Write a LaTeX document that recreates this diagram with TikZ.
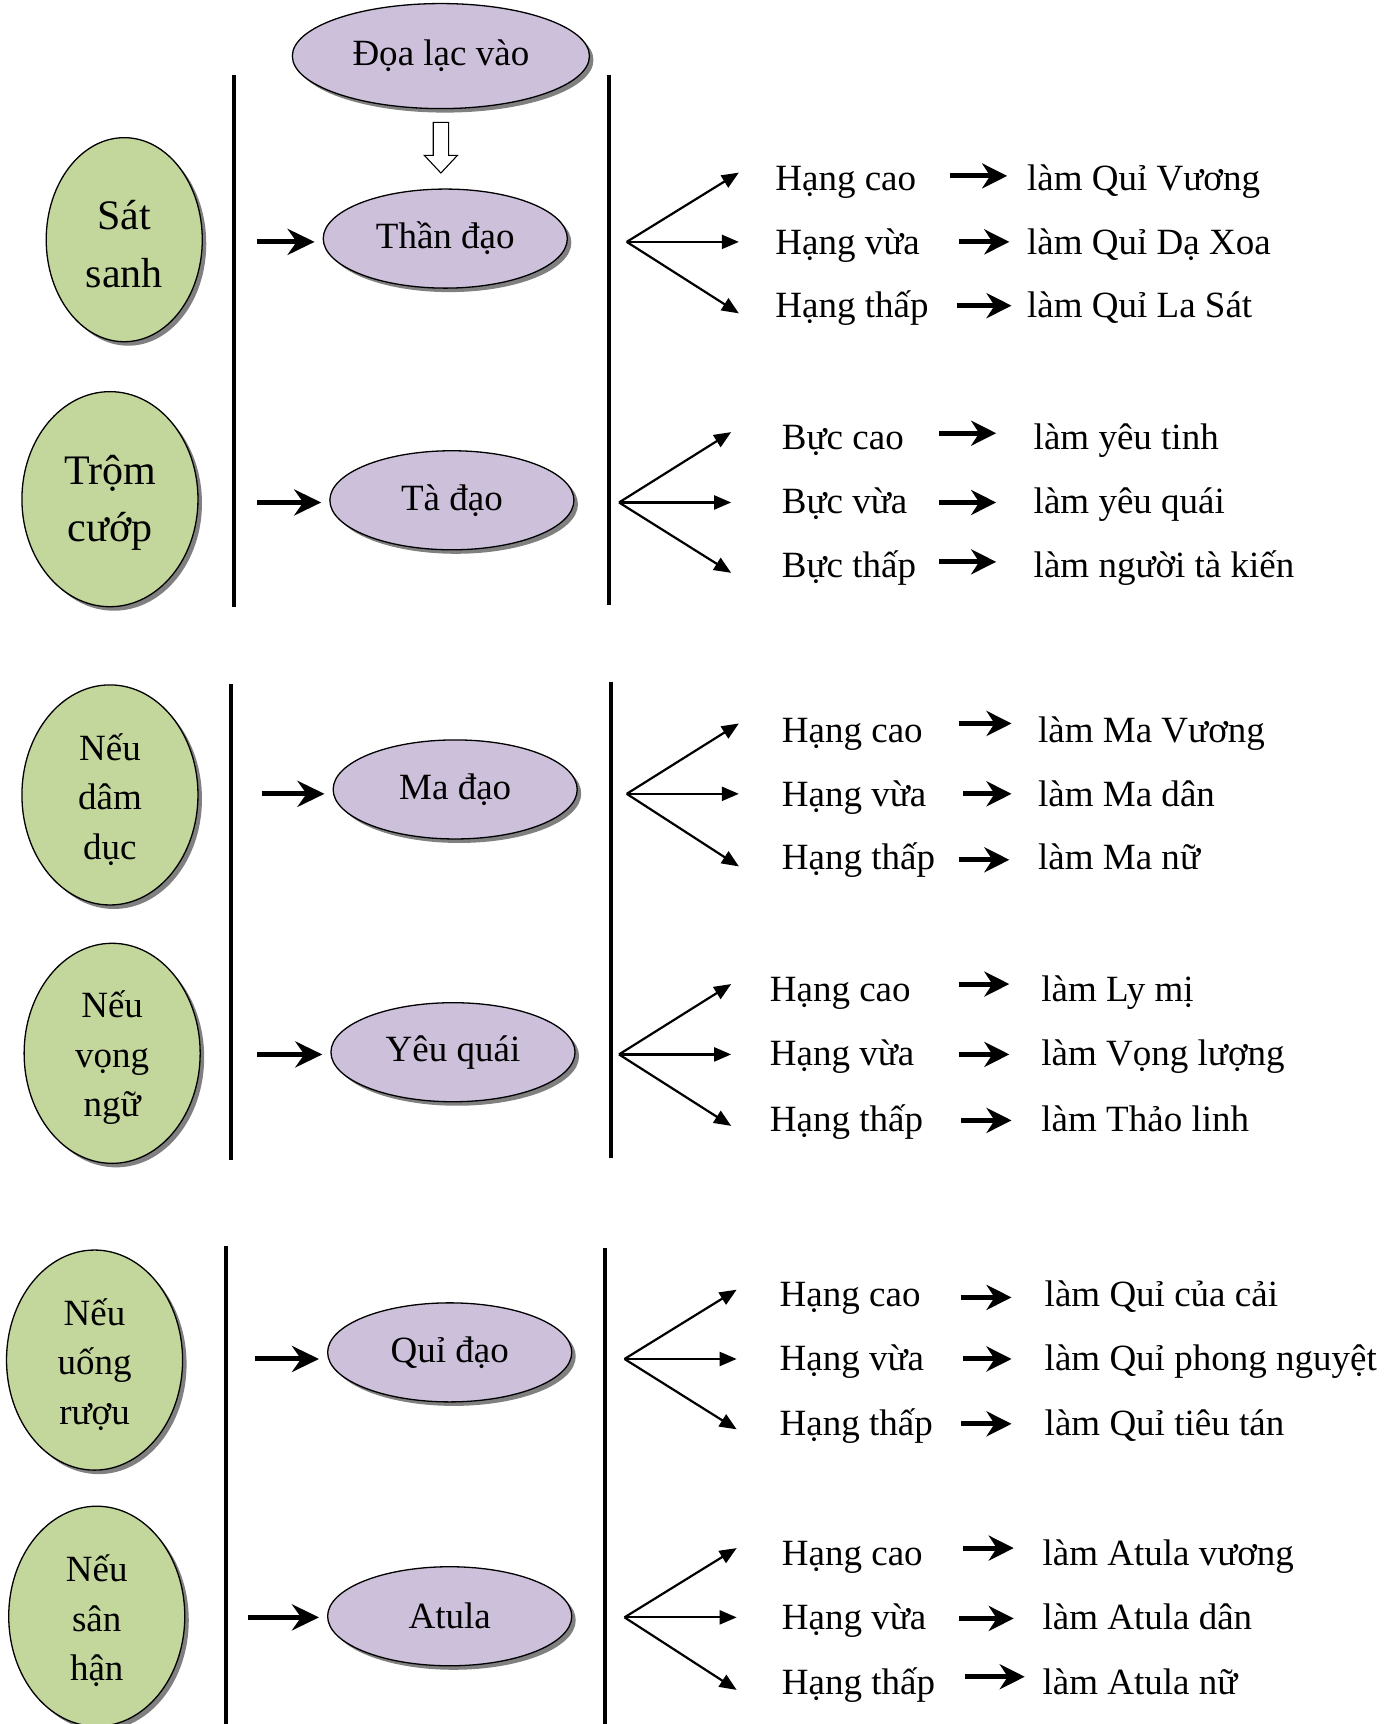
\documentclass[tikz,border=0pt]{standalone}
\usepackage{fontspec}
\setmainfont{Liberation Serif}
\usetikzlibrary{shapes.geometric,arrows.meta,shadows}
\definecolor{gfill}{RGB}{195,214,155}
\definecolor{pfill}{RGB}{204,192,218}
\begin{document}
\begin{tikzpicture}[x=1.0991pt,y=-1.0991pt,
  ell/.style={ellipse,draw=black,line width=1.3pt,inner sep=0pt,align=center,
    drop shadow={shadow xshift=4pt,shadow yshift=-4pt,fill=black!50,opacity=1}},
  gnode/.style={ell,fill=gfill,minimum width=176pt,minimum height=220pt},
  gtxt/.style={inner sep=0pt,align=center,font=\fontsize{37}{49.5}\selectfont},
  gbtxt/.style={gtxt,font=\fontsize{42}{57}\selectfont},
  pnode/.style={ell,fill=pfill,minimum width=244pt,minimum height=99pt,font=\fontsize{37}{44}\selectfont},
  lbl/.style={inner sep=0pt,anchor=west,text height=0.7em,text depth=0.22em,font=\fontsize{37}{44}\selectfont},
  vline/.style={line width=4pt},
  entry/.style={line width=5pt,-{Stealth[length=27pt,width=26pt,inset=9pt]},shorten >=8pt},
  midarrow/.style={line width=5pt,-{Stealth[length=25pt,width=25pt,inset=8pt]}},
  fan/.style={line width=2.2pt,-{Triangle[length=17pt,width=14pt]}},
  hollow/.style={draw=black,fill=white,line width=1.1pt,line join=miter}
]
\useasboundingbox[fill=white] (0,0) rectangle (1271,1568);

% vertical dividers
\draw[vline] (213,68) -- (213,552);
\draw[vline] (554,68) -- (554,550);
\draw[vline] (210,622) -- (210,1055);
\draw[vline] (556,620) -- (556,1053);
\draw[vline] (206,1133) -- (206,1575);
\draw[vline] (550,1135) -- (550,1575);

% green causes
\node[gnode,minimum width=156pt,minimum height=204pt] (g1) at (113,218) {};
\node[gbtxt] (g1t) at (113,222) {Sát\\sanh};
\node[gnode,minimum height=215pt] (g2) at (100,454) {};
\node[gbtxt] (g2t) at (100,457) {Trộm\\cướp};
\node[gnode] (g3) at (100,723) {};
\node[gtxt] (g3t) at (100,727) {Nếu\\dâm\\dục};
\node[gnode] (g4) at (102,958) {};
\node[gtxt] (g4t) at (102,962) {Nếu\\vọng\\ngữ};
\node[gnode] (g5) at (86,1237) {};
\node[gtxt] (g5t) at (86,1241) {Nếu\\uống\\rượu};
\node[gnode] (g6) at (88,1470) {};
\node[gtxt] (g6t) at (88,1474) {Nếu\\sân\\hận};

% purple realms
\node[pnode,minimum width=297pt,minimum height=105pt] (dl) at (401,51) {Đọa lạc vào};
\node[pnode] (td) at (405,217) {Thần đạo};
\node[pnode] (ta) at (411,455) {Tà đạo};
\node[pnode] (ma) at (414,718) {Ma đạo};
\node[pnode] (yq) at (412,957) {Yêu quái};
\node[pnode] (qd) at (409,1230) {Quỉ đạo};
\node[pnode] (at) at (409,1470) {Atula};

% hollow arrow
\draw[hollow] (dl.south) ++(-7,12) -- ++(0,30) -- ++(-8,0) -- ++(15,16) -- ++(15,-16) -- ++(-8,0) -- ++(0,-30) -- cycle;

% entry arrows
\coordinate (e1) at (234,220);
\coordinate (e2) at (234,457);
\coordinate (e3) at (238,722);
\coordinate (e4) at (234,959);
\coordinate (e5) at (232,1236);
\coordinate (e6) at (226,1471);
\draw[entry] (e1) -- (td.west |- e1);
\draw[entry] (e2) -- (ta.west |- e2);
\draw[entry] (e3) -- (ma.west |- e3);
\draw[entry] (e4) -- (yq.west |- e4);
\draw[entry] (e5) -- (qd.west |- e5);
\draw[entry] (e6) -- (at.west |- e6);

% fans
\foreach \ox/\oy/\tx/\ya/\yb/\yc [count=\k] in {
  570/220/672/157/220/285,
  563/457/665/393/457/521,
  570/722/672/658/722/788,
  563/959/665/895/959/1024,
  568/1236/670/1173/1236/1300,
  568/1471/670/1408/1471/1537}{
  \coordinate (f\k) at (\ox,\oy);
  \coordinate (f\k a) at (\tx,\ya);
  \coordinate (f\k b) at (\tx,\yb);
  \coordinate (f\k c) at (\tx,\yc);
  \draw[fan] (f\k) -- (f\k a);
  \draw[fan] (f\k) -- (f\k b);
  \draw[fan] (f\k) -- (f\k c);
}

% rank / result rows
\foreach \rx/\ry/\rk/\aa/\ab/\ay/\mx/\res [count=\i] in {
  705/171/Hạng cao/864/916/160/934/làm Quỉ Vương,
  705/229/Hạng vừa/872/918/220/934/làm Quỉ Dạ Xoa,
  705/287/Hạng thấp/870/920/278/934/làm Quỉ La Sát,
  711/407/Bực cao/854/906/394/940/làm yêu tinh,
  711/465/Bực vừa/854/906/457/940/làm yêu quái,
  711/523/Bực thấp/854/906/511/940/làm người tà kiến,
  711/673/Hạng cao/872/920/658/944/làm Ma Vương,
  711/731/Hạng vừa/876/920/722/944/làm Ma dân,
  711/789/Hạng thấp/872/918/782/944/làm Ma nữ,
  700/909/Hạng cao/872/918/895/947/làm Ly mị,
  700/967/Hạng vừa/872/918/959/947/làm Vọng lượng,
  700/1027/Hạng thấp/874/920/1019/947/làm Thảo linh,
  709/1186/Hạng cao/874/920/1180/950/làm Quỉ của cải,
  709/1244/Hạng vừa/876/920/1236/950/làm Quỉ phong nguyệt,
  709/1303/Hạng thấp/874/920/1295/950/làm Quỉ tiêu tán,
  711/1422/Hạng cao/876/922/1408/948/làm Atula vương,
  711/1480/Hạng vừa/872/922/1472/948/làm Atula dân,
  711/1539/Hạng thấp/878/932/1525/948/làm Atula nữ}{
  \node[lbl] (r\i) at (\rx,\ry) {\rk};
  \node[lbl] (m\i) at (\mx,\ry) {\res};
  \coordinate (as\i) at (\aa,\ay);
  \coordinate (ae\i) at (\ab,\ay);
  \draw[midarrow] (as\i) -- (ae\i);
}
\end{tikzpicture}
\end{document}
